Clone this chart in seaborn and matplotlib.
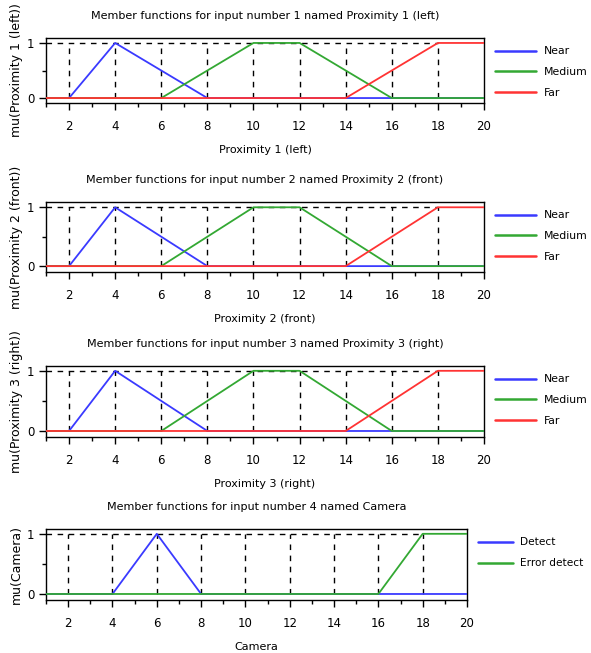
import numpy as np
import pandas as pd
import matplotlib
matplotlib.use("Agg")
import matplotlib.pyplot as plt
import seaborn as sns
from matplotlib.ticker import MultipleLocator

sns.set_style("ticks")
plt.rcParams['font.family'] = ['DejaVu Sans']
plt.rcParams['text.color'] = 'black'
plt.rcParams['axes.labelcolor'] = 'black'
plt.rcParams['xtick.color'] = 'black'
plt.rcParams['ytick.color'] = 'black'

# ---- data ----
prox_x = [1, 2, 4, 8, 20]
near_y = [0, 0, 1, 0, 0]
med_x = [1, 6, 10, 12, 16, 20]
med_y = [0, 0, 1, 1, 0, 0]
far_x = [1, 14, 18, 20]
far_y = [0, 0, 1, 1]
cam_detect_x = [1, 4, 6, 8, 20]
cam_detect_y = [0, 0, 1, 0, 0]
cam_err_x = [1, 16, 18, 20]
cam_err_y = [0, 0, 1, 1]

prox_labels = ["Near", "Medium", "Far"]
cam_labels = ["Detect", "Error detect"]
grid_x = [2, 4, 6, 8, 10, 12, 14, 16, 18]
xticks = [2, 4, 6, 8, 10, 12, 14, 16, 18, 20]

titles = ["Member functions for input number 1 named Proximity 1 (left)",
          "Member functions for input number 2 named Proximity 2 (front)",
          "Member functions for input number 3 named Proximity 3 (right)",
          "Member functions for input number 4 named Camera"]
xlabels = ["Proximity 1 (left)", "Proximity 2 (front)", "Proximity 3 (right)", "Camera"]
ylabels = ["mu(Proximity 1 (left))", "mu(Proximity 2 (front))", "mu(Proximity 3 (right))", "mu(Camera)"]

BLUE = "#3a3aff"
GREEN = "#33a833"
RED = "#ff3333"

W, H = 591, 653
fig = plt.figure(figsize=(W / 100, H / 100), dpi=100)

# axes boxes in pixels: (left, top, right, bottom)
boxes = [(46, 38, 484, 103), (46, 202, 484, 272), (46, 366, 484, 437), (46, 529, 467, 600)]
ylims = [(-0.09, 1.09), (-0.1, 1.09), (-0.1, 1.08), (-0.1, 1.08)]

for i in range(4):
    l, t, r, b = boxes[i]
    ax = fig.add_axes([l / W, 1 - b / H, (r - l) / W, (b - t) / H])
    if i < 3:
        series = [(prox_x, near_y, prox_labels[0], BLUE),
                  (med_x, med_y, prox_labels[1], GREEN),
                  (far_x, far_y, prox_labels[2], RED)]
    else:
        series = [(cam_detect_x, cam_detect_y, cam_labels[0], BLUE),
                  (cam_err_x, cam_err_y, cam_labels[1], GREEN)]
    # reference dashed lines
    ax.vlines(grid_x, 0, 1, colors="black", linestyles=(0, (4, 4)), linewidth=1.0, zorder=1)
    ax.hlines(1, 1, 18, colors="black", linestyles=(0, (4, 4)), linewidth=1.0, zorder=1)
    for xs, ys, lab, col in series:
        df = pd.DataFrame({"x": xs, "y": ys})
        sns.lineplot(data=df, x="x", y="y", ax=ax, color=col, linewidth=1.3,
                     label=lab, zorder=3)
    ax.set_xlim(1, 20)
    ax.set_ylim(*ylims[i])
    ax.set_xticks(xticks)
    ax.xaxis.set_minor_locator(MultipleLocator(1))
    ax.set_yticks([0, 1])
    ax.yaxis.set_minor_locator(MultipleLocator(0.5))
    ax.tick_params(axis="both", which="major", direction="out", length=5, width=1,
                   labelsize=8.5, color="black", labelcolor="black")
    ax.tick_params(axis="x", which="major", pad=7)
    ax.tick_params(axis="both", which="minor", direction="out", length=3, width=1, color="black")
    for s in ax.spines.values():
        s.set_linewidth(1.0)
        s.set_color("black")
    ax.set_title(titles[i], fontsize=8, pad=14, color="black")
    ax.set_xlabel(xlabels[i], fontsize=8, color="black")
    ax.set_ylabel(ylabels[i], fontsize=9, labelpad=3, color="black")
    ax.xaxis.labelpad = 9
    anchor_y = 1 - 4.0 / (b - t)
    if i < 3:
        leg = ax.legend(loc="upper left", bbox_to_anchor=(1.015, anchor_y), frameon=False,
                        fontsize=7.8, handlelength=3.8, labelspacing=0.98, handletextpad=0.75,
                        borderaxespad=0.0)
    else:
        leg = ax.legend(loc="upper left", bbox_to_anchor=(1.015, anchor_y), frameon=False,
                        fontsize=7.6, handlelength=3.4, labelspacing=1.05, handletextpad=0.6,
                        borderaxespad=0.0)
    for txt in leg.get_texts():
        txt.set_color("black")
    for ln in leg.get_lines():
        ln.set_linewidth(1.8)

fig.savefig("out.png", dpi=100)
